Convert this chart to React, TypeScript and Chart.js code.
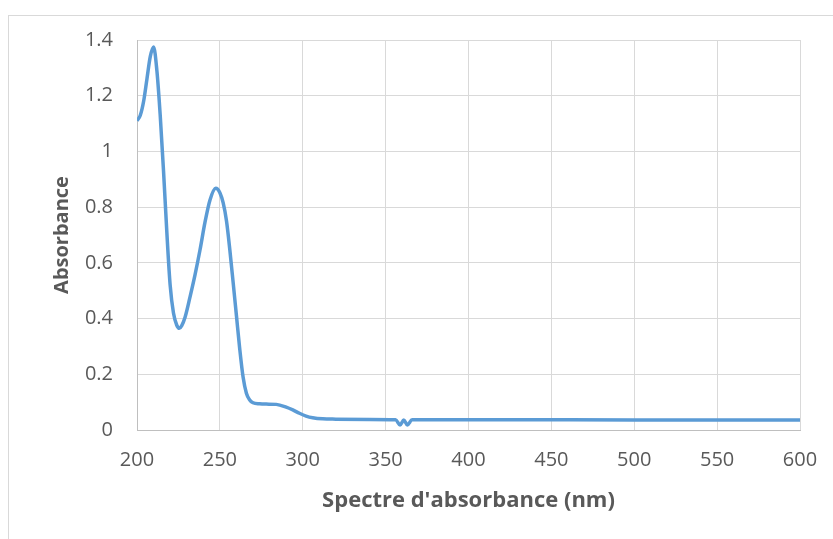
import React, { useEffect, useRef } from "react";
import { Chart, registerables } from "chart.js";

Chart.register(...registerables);

const wavelength = [
  200, 202, 204, 206, 208, 210, 212, 214, 216, 218, 220, 222, 224, 225.5, 227, 229, 232, 235, 238, 241, 244,
  247.5, 250, 252, 254, 256, 258, 260, 262, 264, 266, 268, 270, 274, 278, 284, 290, 294, 298, 302, 306, 312,
  320, 340, 356, 358.7, 361, 363.1, 366, 380, 420, 500, 600,
];
const absorbance = [
  1.11, 1.13, 1.18, 1.26, 1.34, 1.375, 1.29, 1.13, 0.93, 0.71, 0.52, 0.42, 0.376, 0.365, 0.375, 0.405, 0.478,
  0.557, 0.646, 0.745, 0.825, 0.868, 0.852, 0.815, 0.75, 0.647, 0.53, 0.41, 0.29, 0.19, 0.132, 0.108, 0.098,
  0.094, 0.093, 0.092, 0.082, 0.072, 0.06, 0.05, 0.044, 0.04, 0.039, 0.038, 0.037, 0.018, 0.036, 0.018, 0.037,
  0.037, 0.037, 0.036, 0.036,
];
const xTitle = "Spectre d'absorbance (nm)";
const yTitle = "Absorbance";

const FONT = "'Open Sans', 'Liberation Sans', sans-serif";
const TEXT = "#595959";
const GRID = "#d9d9d9";

export default function App() {
  const ref = useRef<HTMLCanvasElement>(null);
  useEffect(() => {
    const chart = new Chart(ref.current as HTMLCanvasElement, {
      type: "line",
      data: {
        datasets: [
          {
            data: wavelength.map((x, i) => ({ x, y: absorbance[i] })),
            borderColor: "#5B9BD5",
            backgroundColor: "#5B9BD5",
            borderWidth: 3.5,
            pointRadius: 0,
            cubicInterpolationMode: "monotone",
            fill: false,
          },
        ],
      },
      options: {
        responsive: false,
        animation: false,
        layout: { padding: { left: 0, right: 33, top: 40, bottom: 0 } },
        plugins: { legend: { display: false }, tooltip: { enabled: false } },
        scales: {
          x: {
            type: "linear",
            min: 200,
            max: 600,
            ticks: {
              stepSize: 50,
              color: TEXT,
              font: { family: FONT, size: 20, lineHeight: 2.07 },
              padding: 10,
              maxRotation: 0,
            },
            grid: { color: GRID, lineWidth: 1, drawTicks: false },
            border: { color: "#bfbfbf", width: 1 },
            title: {
              display: true,
              text: xTitle,
              color: TEXT,
              font: { family: FONT, size: 22, weight: "bold" },
              padding: { top: 0, bottom: 25 },
            },
            afterFit: (s: any) => {
              s.height = 109;
            },
          },
          y: {
            min: 0,
            max: 1.4,
            ticks: {
              stepSize: 0.2,
              color: TEXT,
              font: { family: FONT, size: 20 },
              padding: 24,
              callback: (v: any) => String(Math.round(Number(v) * 10) / 10),
            },
            grid: { color: GRID, lineWidth: 1, drawTicks: false },
            border: { color: "#bfbfbf", width: 1 },
            title: {
              display: true,
              text: yTitle,
              color: TEXT,
              font: { family: FONT, size: 20, weight: "bold" },
              padding: { top: 50, bottom: 0 },
            },
            afterFit: (s: any) => {
              s.width = 137;
            },
          },
        },
      },
    });
    return () => chart.destroy();
  }, []);
  return (
    <div style={{ position: "fixed", left: 0, top: 0, width: 833, height: 539, background: "#fff", overflow: "hidden" }}>
      <div
        style={{
          position: "absolute",
          left: 8,
          top: 15,
          width: 900,
          height: 600,
          borderLeft: "1px solid #d9d9d9",
          borderTop: "1px solid #d9d9d9",
        }}
      />
      <canvas
        ref={ref}
        width={833}
        height={539}
        style={{ position: "absolute", left: 0, top: 0, width: 833, height: 539 }}
      />
    </div>
  );
}
